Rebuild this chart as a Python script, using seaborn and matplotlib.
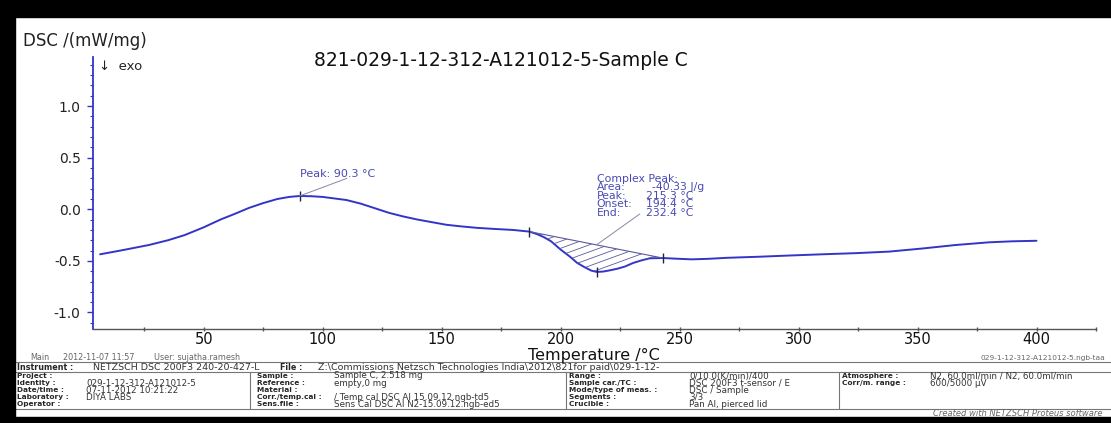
import numpy as np
import matplotlib
matplotlib.use('Agg')
import matplotlib.pyplot as plt
import matplotlib.patches as patches
from matplotlib.lines import Line2D
import seaborn as sns

# Curva DSC
temperature = [6.5, 15, 27, 35, 42, 50, 57, 63, 69, 75, 81, 86, 90.3, 95, 100, 105,
               110, 116, 122, 128, 134, 140, 146, 152, 158, 165, 172, 180, 186.9, 190,
               193, 196, 200, 204, 207, 210, 213, 215.3, 218, 221, 224, 227, 230.5, 234,
               237.5, 242.9, 248, 255, 262, 270, 283, 296, 310, 324, 338, 352, 366, 380,
               390, 400]
dsc = [-0.436, -0.40, -0.346, -0.30, -0.25, -0.175, -0.10, -0.045, 0.013, 0.06, 0.10,
       0.12, 0.129, 0.127, 0.12, 0.105, 0.09, 0.055, 0.01, -0.035, -0.07, -0.10, -0.125,
       -0.15, -0.165, -0.18, -0.19, -0.20, -0.216, -0.24, -0.27, -0.31, -0.39, -0.46,
       -0.52, -0.56, -0.595, -0.607, -0.603, -0.59, -0.575, -0.555, -0.52, -0.495,
       -0.475, -0.472, -0.478, -0.485, -0.48, -0.47, -0.46, -0.448, -0.436, -0.425,
       -0.41, -0.38, -0.346, -0.32, -0.31, -0.305]

peak1_temp = 90.3
onset_temp = 186.9
peak2_temp = 215.3
end_temp = 242.9

x_ticks = [50, 100, 150, 200, 250, 300, 350, 400]
y_ticks = [-1.0, -0.5, 0.0, 0.5, 1.0]

W, H = 1111, 423
BLUE = '#3434c8'
TXT_BLUE = '#4a4ab4'
HATCH = '#5a5a9a'


def fx(px):
    return px / W


def fy(py):
    return 1 - py / H


sns.set_theme(style='white')
plt.rcParams['font.family'] = ['DejaVu Sans']

fig = plt.figure(figsize=(W / 100, H / 100), dpi=100)
ax = fig.add_axes([fx(92.5), fy(329), fx(1096) - fx(92.5), fy(57) - fy(329)])

df_T = np.array(temperature)
df_y = np.array(dsc)
sns.lineplot(x=df_T, y=df_y, ax=ax, color=BLUE, linewidth=1.4, sort=False, estimator=None)

# area tratteggiata tra linea di base e curva
y_on = np.interp(onset_temp, df_T, df_y)
y_end = np.interp(end_temp, df_T, df_y)
mask = (df_T >= onset_temp) & (df_T <= end_temp)
seg_T = df_T[mask]
base = np.interp(seg_T, [onset_temp, end_temp], [y_on, y_end])
area = ax.fill_between(seg_T, df_y[mask], base, facecolor='none', linewidth=0)
ax.plot([onset_temp, end_temp], [y_on, y_end], color=HATCH, lw=0.8)
# linee di tratteggio poco inclinate, ritagliate sull'area
slope = 0.0084
for c in np.arange(-1.10, -0.20, 0.068):
    hl, = ax.plot([onset_temp, end_temp], [c, c + slope * (end_temp - onset_temp)],
                  color=HATCH, lw=0.6)
    hl.set_clip_path(area.get_paths()[0], ax.transData)

# marcatori degli eventi
for t in [peak1_temp, onset_temp, peak2_temp, end_temp]:
    ax.plot([t], [np.interp(t, df_T, df_y)], marker='|', color='#222244', ms=7, mew=1)

# annotazioni
y_p1 = np.interp(peak1_temp, df_T, df_y)
ax.plot([peak1_temp, 110.2], [y_p1, 0.30], color='#8888a0', lw=0.7)
ax.text(90.7, 0.345, 'Peak: 90.3 °C', color=TXT_BLUE, fontsize=8, va='center')

mid_t = 215.1
ax.plot([mid_t, 233.3], [np.interp(mid_t, [onset_temp, end_temp], [y_on, y_end]), -0.045],
        color='#8888a0', lw=0.7)
labels = ['Complex Peak:', 'Area:', 'Peak:', 'Onset:', 'End:']
values = ['', '-40.33 J/g', '215.3 °C', '194.4 °C', '232.4 °C']
rows_y = [0.291, 0.213, 0.131, 0.051, -0.031]
for lab, val, yy in zip(labels, values, rows_y):
    ax.text(215.1, yy, lab, color=TXT_BLUE, fontsize=7.8, va='center')
    if val:
        ax.text(238.5 if val.startswith('-') else 235.9, yy, val, color=TXT_BLUE,
                fontsize=7.8, va='center')

ax.set_xlim(3.3, 419.7)
ax.set_ylim(-1.16, 1.476)
ax.set_xticks(x_ticks)
ax.set_xticks([t + 25 for t in [0] + x_ticks], minor=True)
ax.set_yticks(y_ticks)
ax.set_yticks(np.round(np.arange(-1.1, 1.45, 0.1), 1), minor=True)
ax.set_yticklabels([f'{v:.1f}' for v in y_ticks])
ax.tick_params(axis='y', which='major', direction='out', length=4.5, width=1,
               color=BLUE, labelsize=10, labelcolor='#222222', pad=4, left=True)
ax.tick_params(axis='y', which='minor', direction='out', length=2.5, width=0.8,
               color=BLUE, left=True)
ax.tick_params(axis='x', which='both', direction='inout', length=3, width=1,
               color='#555555', labelsize=10.5, labelcolor='#111111', pad=1, bottom=True)
for s in ['top', 'right']:
    ax.spines[s].set_visible(False)
ax.spines['left'].set_color(BLUE)
ax.spines['left'].set_linewidth(1.3)
ax.spines['bottom'].set_color('#555555')
ax.spines['bottom'].set_linewidth(1)
ax.set_xlabel('')
ax.set_ylabel('')
ax.patch.set_alpha(0)

# testi della figura
fig.text(fx(23), fy(41), 'DSC /(mW/mg)', fontsize=12, color='#222222', va='center')
fig.text(fx(99), fy(67), '↓  exo', fontsize=9.5, color='#222222', va='center')
fig.text(fx(501), fy(61), '821-029-1-12-312-A121012-5-Sample C', fontsize=13.5,
         color='#111111', ha='center', va='center')
fig.text(fx(594), fy(355), 'Temperature /°C', fontsize=11.5, color='#111111',
         ha='center', va='center')
fig.text(fx(30), fy(357), 'Main', fontsize=5.8, color='#666666', va='center')
fig.text(fx(63), fy(357), '2012-11-07 11:57', fontsize=5.8, color='#666666', va='center')
fig.text(fx(154), fy(357), 'User: sujatha.ramesh', fontsize=5.8, color='#666666',
         va='center')
fig.text(fx(1105), fy(358), '029-1-12-312-A121012-5.ngb-taa', fontsize=5.3,
         color='#666666', ha='right', va='center')

# tabella delle informazioni
line_kw = dict(color='#777777', lw=0.8, transform=fig.transFigure)
for yy in [362, 372, 409]:
    fig.add_artist(Line2D([fx(15), 1], [fy(yy), fy(yy)], **line_kw))
for xx in [250, 566, 839]:
    fig.add_artist(Line2D([fx(xx), fx(xx)], [fy(372), fy(409)], **line_kw))

fs_lab = 5.3
fs_val = 6.3
fig.text(fx(17), fy(367), 'Instrument :', fontsize=5.8, weight='bold', va='center')
fig.text(fx(93), fy(367), 'NETZSCH DSC 200F3 240-20-427-L', fontsize=6.8,
         color='#333333', va='center')
fig.text(fx(280), fy(367), 'File :', fontsize=5.8, weight='bold', va='center')
fig.text(fx(318), fy(367),
         'Z:\\Commissions Netzsch Technologies India\\2012\\821for paid\\029-1-12-',
         fontsize=6.8, color='#333333', va='center')

row_y = [376, 383, 390, 397, 404]
col1_lab = ['Project :', 'Identity :', 'Date/time :', 'Laboratory :', 'Operator :']
col1_val = ['', '029-1-12-312-A121012-5', '07-11-2012 10:21:22', 'DIYA LABS', '']
col2_lab = ['Sample :', 'Reference :', 'Material :', 'Corr./temp.cal :', 'Sens.file :']
col2_val = ['Sample C, 2.518 mg', 'empty,0 mg', '', '/ Temp cal DSC Al 15.09.12.ngb-td5',
            'Sens Cal DSC Al N2-15.09.12.ngb-ed5']
col3_lab = ['Range :', 'Sample car./TC :', 'Mode/type of meas. :', 'Segments :', 'Crucible :']
col3_val = ['0/10.0(K/min)/400', 'DSC 200F3 t-sensor / E', 'DSC / Sample', '3/3',
            'Pan Al, pierced lid']
col4_lab = ['Atmosphere :', 'Corr/m. range :', '', '', '']
col4_val = ['N2, 60.0ml/min / N2, 60.0ml/min', '600/5000 µV', '', '', '']

columns = [(17, 86, col1_lab, col1_val), (257, 334, col2_lab, col2_val),
           (569, 689, col3_lab, col3_val), (842, 930, col4_lab, col4_val)]
for xl, xv, labs, vals in columns:
    for yy, lab, val in zip(row_y, labs, vals):
        if lab:
            fig.text(fx(xl), fy(yy), lab, fontsize=fs_lab, weight='bold', va='center')
        if val:
            fig.text(fx(xv), fy(yy), val, fontsize=fs_val, color='#333333', va='center')

fig.text(fx(933), fy(413), 'Created with NETZSCH Proteus software', fontsize=6,
         style='italic', color='#666666', va='center')

# cornice nera
for rect in [(0, fy(17), 1, 17 / H), (0, 0, fx(15), 1), (0, 0, 1, 6 / H)]:
    fig.add_artist(patches.Rectangle(rect[:2], rect[2], rect[3], color='black',
                                     transform=fig.transFigure, zorder=10))

plt.savefig('out.png', dpi=100)
